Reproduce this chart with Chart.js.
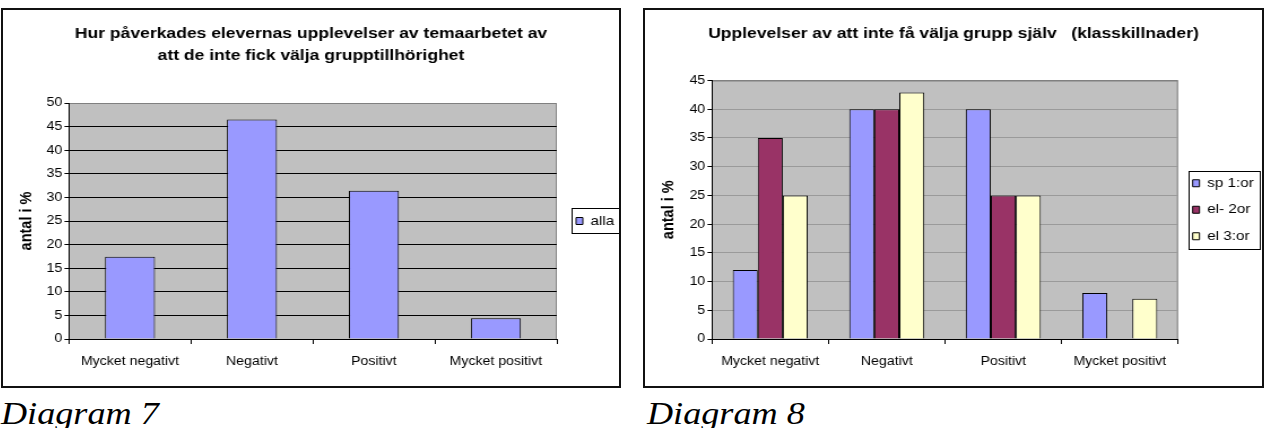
<!DOCTYPE html>
<html>
<head>
<meta charset="utf-8">
<script src="https://cdn.jsdelivr.net/npm/chart.js@4/dist/chart.umd.min.js"></script>
<style>
body{margin:0;background:#fff;width:1272px;height:428px;overflow:hidden;position:relative;font-family:"Liberation Sans",Arial,sans-serif}
.frame{position:absolute;top:8px;height:380px;border:2px solid #111;box-sizing:border-box;background:#fff;overflow:hidden}
.wrap{position:absolute;left:0;top:0;transform-origin:0 0}
.cap{position:absolute;top:397px;font:italic 32px/32px "Liberation Serif",serif;transform:scaleX(1.13);transform-origin:0 0;white-space:nowrap}
</style>
</head>
<body>
<div class="frame" style="left:1px;width:620px">
	<div class="wrap" style="transform:scaleX(1.1303)"><canvas id="c7" width="545" height="376" style="width:545px;height:376px"></canvas></div>
</div>
<div class="frame" style="left:643px;width:621px">
	<div class="wrap" style="transform:scaleX(1.1300)"><canvas id="c8" width="546" height="376" style="width:546px;height:376px"></canvas></div>
</div>
<div class="cap" style="left:1px">Diagram 7</div>
<div class="cap" style="left:647px">Diagram 8</div>

<script>
//==========
// Data

const categories = ["Mycket negativt", "Negativt", "Positivt", "Mycket positivt"];

// Diagram 7
const title7 = ["Hur påverkades elevernas upplevelser av temaarbetet av", "att de inte fick välja grupptillhörighet"];
const alla = [17.4, 46.5, 31.4, 4.4];
const yMax7 = 50;

// Diagram 8
const title8 = "Upplevelser av att inte få välja grupp själv   (klasskillnader)";
const sp1 = [12, 40, 40, 8];
const el2 = [35, 40, 25, 0];
const el3 = [25, 42.9, 25, 7];
const yMax8 = 45;

const yStep = 5;
const yTitle = "antal i %";

//==========
// Plugins

Chart.defaults.font.family = '"Liberation Sans", Arial, sans-serif';
Chart.defaults.color = "#000";

// grey plot area with a thin grey frame
const plotBg = {
	id: "plotBg",
	beforeDraw(chart){
		const {ctx, chartArea: a} = chart;
		ctx.save();
		ctx.fillStyle = "#c0c0c0";
		ctx.fillRect(a.left, a.top, a.width, a.height);
		ctx.strokeStyle = "#808080";
		ctx.lineWidth = 1;
		ctx.beginPath();
		ctx.moveTo(a.left, a.top + 0.5);
		ctx.lineTo(a.right - 0.5, a.top + 0.5);
		ctx.lineTo(a.right - 0.5, a.bottom);
		ctx.stroke();
		ctx.restore();
	}
};

// black box round the legend
const legendFrame = {
	id: "legendFrame",
	afterDraw(chart){
		const boxes = chart.legend.legendHitBoxes;
		if(!boxes || !boxes.length) return;
		let l = Infinity, r = -Infinity, t = Infinity, b = -Infinity;
		for(let hb of boxes){
			l = Math.min(l, hb.left);
			r = Math.max(r, hb.left + hb.width);
			t = Math.min(t, hb.top);
			b = Math.max(b, hb.top + hb.height);
		}
		const ctx = chart.ctx;
		ctx.save();
		ctx.strokeStyle = "#000";
		ctx.lineWidth = 1;
		ctx.strokeRect(Math.round(l - 4) + 0.5, Math.round(t - 6) + 0.5, Math.round(r - l + 9), Math.round(b - t + 11));
		ctx.restore();
	}
};

//==========
// Chart

function makeChart(id, opt){
	const ctx = document.getElementById(id).getContext("2d");
	return new Chart(ctx, {
		type: "bar",
		data: {
			labels: categories,
			datasets: opt.datasets
		},
		plugins: [plotBg, legendFrame],
		options: {
			responsive: false,
			animation: false,
			datasets: {
				bar: {
					categoryPercentage: opt.catPct,
					barPercentage: 1,
					borderColor: "#000",
					borderWidth: 1
				}
			},
			layout: {padding: 0},
			plugins: {
				title: {
					display: true,
					text: opt.title,
					color: "#000",
					font: {size: 15.5, weight: "bold", lineHeight: "22px"},
					padding: opt.titlePad
				},
				legend: {
					position: "right",
					fullSize: false,
					maxWidth: opt.legendWidth,
					labels: {
						boxWidth: 6,
						boxHeight: 7,
						padding: opt.legendPad,
						color: "#000",
						font: {size: 13.5}
					}
				},
				tooltip: {enabled: false}
			},
			scales: {
				x: {
					ticks: {color: "#000", font: {size: 12.5}, padding: 10, autoSkip: false, maxRotation: 0},
					grid: {display: true, drawOnChartArea: false, color: "#000", tickLength: 5, offset: true},
					border: {color: "#000", width: 1},
					afterFit: s => { s.height = 47; }
				},
				y: {
					min: 0,
					max: opt.yMax,
					ticks: {stepSize: yStep, color: "#000", font: {size: 12.5}, padding: 2},
					grid: {
						color: c => (c.tick && c.tick.value === opt.yMax) ? "#808080" : opt.gridColor,
						tickColor: "#000",
						tickLength: 4,
						lineWidth: 1
					},
					border: {color: "#000", width: 1},
					title: {
						display: true,
						text: yTitle,
						color: "#000",
						font: {size: 14.5, weight: "bold"},
						padding: {top: 12.5, bottom: 0}
					},
					afterFit: s => { s.width = opt.yWidth; }
				}
			}
		}
	});
}

makeChart("c7", {
	title: title7,
	titlePad: {top: 13, bottom: 36},
	yMax: yMax7,
	yWidth: 58.4,
	gridColor: "#000",
	catPct: 0.41,
	legendWidth: 55,
	legendPad: 17,
	datasets: [
		{label: "alla", data: alla, backgroundColor: "#9999ff"}
	]
});

makeChart("c8", {
	title: title8,
	titlePad: {top: 12.5, bottom: 36},
	yMax: yMax8,
	yWidth: 59.3,
	gridColor: "#9a9a9a",
	catPct: 0.644,
	legendWidth: 74.3,
	legendPad: 13,
	datasets: [
		{label: "sp 1:or", data: sp1, backgroundColor: "#9999ff"},
		{label: "el- 2or", data: el2, backgroundColor: "#993366"},
		{label: "el 3:or", data: el3, backgroundColor: "#ffffcc"}
	]
});
</script>
</body>
</html>
